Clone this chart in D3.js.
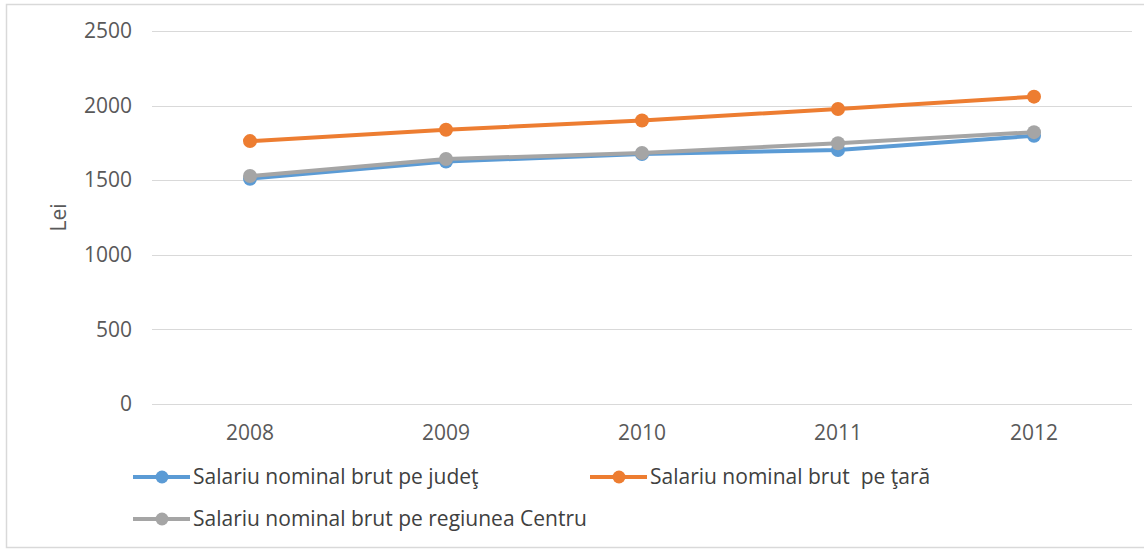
<!DOCTYPE html>
<html>
<head>
<meta charset="utf-8">
<script src="https://cdn.jsdelivr.net/npm/d3@7"></script>
<style>
  body { margin: 0; background: #fff; }
  svg { display: block; font-family: "Open Sans", "Liberation Sans", sans-serif; }
</style>
</head>
<body>
<div id="chart"></div>
<script>
const years = ['2008', '2009', '2010', '2011', '2012'];
const judet = [1510, 1625, 1675, 1702, 1798];
const tara = [1762, 1838, 1900, 1977, 2060];
const centru = [1528, 1642, 1682, 1748, 1822];
const yTicks = [0, 500, 1000, 1500, 2000, 2500];

const series = [
  { name: 'Salariu nominal brut pe judeţ', values: judet, color: '#5b9bd5' },
  { name: 'Salariu nominal brut  pe ţară', values: tara, color: '#ed7d31' },
  { name: 'Salariu nominal brut pe regiunea Centru', values: centru, color: '#a5a5a5' },
];

const W = 1144, H = 550;
const M = { top: 31, right: 12, bottom: 146, left: 152 };
const FONT = '"Open Sans", "Liberation Sans", sans-serif';

const svg = d3.select('#chart').append('svg')
  .attr('width', W)
  .attr('height', H);

// chart border
svg.append('rect')
  .attr('x', 6.5).attr('y', 4.5)
  .attr('width', W + 10).attr('height', 543)
  .attr('fill', 'none')
  .attr('stroke', '#d9d9d9')
  .attr('stroke-width', 1.5);

const x = d3.scaleBand()
  .domain(years)
  .range([M.left, W - M.right]);

const y = d3.scaleLinear()
  .domain([0, 2500])
  .range([H - M.bottom, M.top]);

// gridlines
svg.append('g')
  .selectAll('line')
  .data(yTicks)
  .join('line')
  .attr('x1', M.left)
  .attr('x2', W - M.right)
  .attr('y1', d => Math.round(y(d)) + 0.5)
  .attr('y2', d => Math.round(y(d)) + 0.5)
  .attr('stroke', '#d9d9d9')
  .attr('stroke-width', 1);

// y axis labels
const yAxis = svg.append('g')
  .attr('transform', `translate(${M.left}, 0)`)
  .call(d3.axisLeft(y).tickValues(yTicks).tickFormat(d3.format('d')).tickSize(0).tickPadding(20))
  .attr('font-family', FONT)
  .attr('font-size', 21);
yAxis.select('.domain').remove();
yAxis.selectAll('text').attr('fill', '#595959');

// x axis labels
const xAxis = svg.append('g')
  .attr('transform', `translate(0, ${H - M.bottom})`)
  .call(d3.axisBottom(x).tickSize(0).tickPadding(21))
  .attr('font-family', FONT)
  .attr('font-size', 21);
xAxis.select('.domain').remove();
xAxis.selectAll('text').attr('fill', '#595959');

// y axis title
svg.append('text')
  .attr('transform', `translate(66, ${(y(0) + y(2500)) / 2}) rotate(-90)`)
  .attr('text-anchor', 'middle')
  .attr('fill', '#595959')
  .style('font-size', '21px')
  .text('Lei');

const cx = d => x(d) + x.bandwidth() / 2;

const line = d3.line()
  .x((d, i) => cx(years[i]))
  .y(d => y(d));

const sg = svg.append('g')
  .selectAll('g')
  .data(series)
  .join('g');

sg.append('path')
  .attr('d', d => line(d.values))
  .attr('fill', 'none')
  .attr('stroke', d => d.color)
  .attr('stroke-width', 4)
  .attr('stroke-linejoin', 'round')
  .attr('stroke-linecap', 'round');

sg.selectAll('circle')
  .data(d => d.values.map((v, i) => ({ v, year: years[i], color: d.color })))
  .join('circle')
  .attr('cx', d => cx(d.year))
  .attr('cy', d => y(d.v))
  .attr('r', 7)
  .attr('fill', d => d.color);

// legend
const legendPos = [
  { x: 133, y: 477 },
  { x: 590, y: 477 },
  { x: 133, y: 519 },
];

const lg = svg.append('g')
  .selectAll('g')
  .data(series)
  .join('g')
  .attr('transform', (d, i) => `translate(${legendPos[i].x}, ${legendPos[i].y})`);

lg.append('line')
  .attr('x1', 0).attr('x2', 57)
  .attr('y1', 0).attr('y2', 0)
  .attr('stroke', d => d.color)
  .attr('stroke-width', 4);

lg.append('circle')
  .attr('cx', 29)
  .attr('cy', 0)
  .attr('r', 6.5)
  .attr('fill', d => d.color);

lg.append('text')
  .attr('x', 60)
  .attr('dy', '0.35em')
  .attr('fill', '#404040')
  .style('font-size', '21px')
  .style('white-space', 'pre')
  .text(d => d.name);
</script>
</body>
</html>
